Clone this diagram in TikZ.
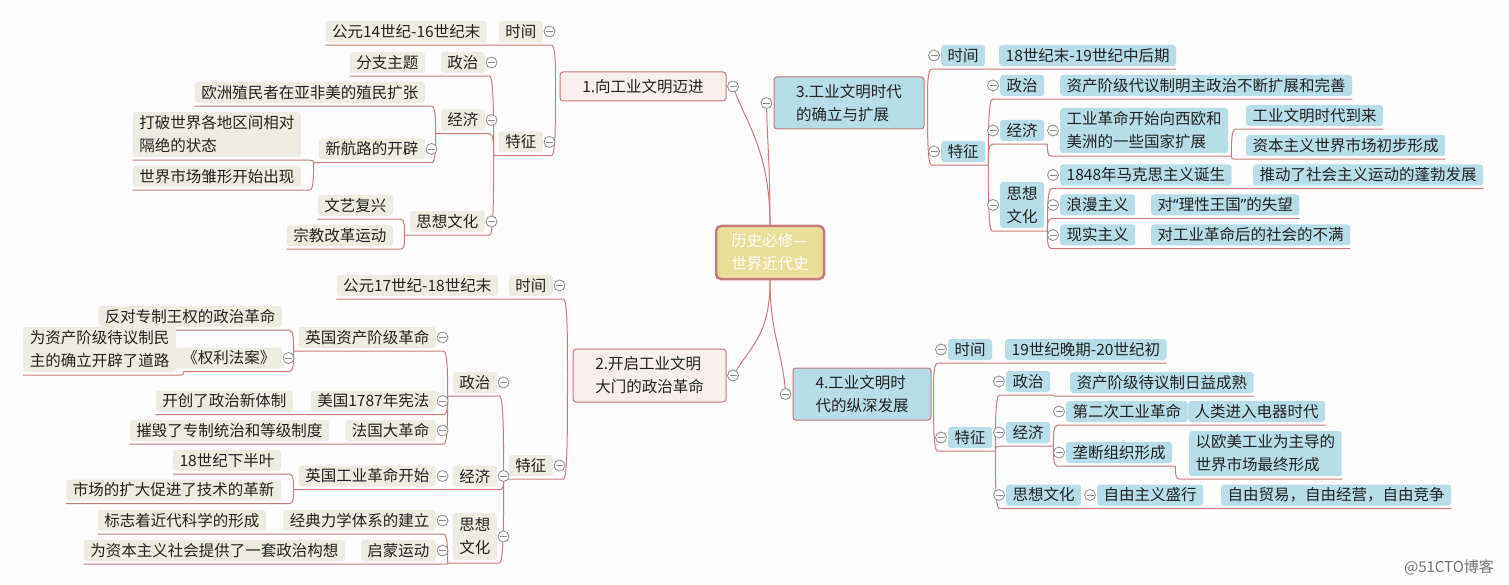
\documentclass[tikz,border=0pt]{standalone}
\usepackage{fontspec}
\setmainfont{Noto Sans CJK SC}
\newfontfamily\latq{Noto Sans}
\usetikzlibrary{calc}
\definecolor{beige}{HTML}{EEECE1}
\definecolor{lblue}{HTML}{B7DDE8}
\definecolor{pinkf}{HTML}{F8EEEE}
\definecolor{border}{HTML}{C47A7A}
\definecolor{linec}{HTML}{C97B7B}
\definecolor{txt}{HTML}{222222}
\definecolor{cfill}{HTML}{E8DE98}
\definecolor{knobc}{HTML}{8C8C8C}
\definecolor{bgc}{HTML}{FDFDFD}
\pgfdeclarelayer{bg}
\pgfsetlayers{bg,main}
\newcommand\fs{\fontsize{15.5}{23}\selectfont}
% junctions
\newcommand\jL[1]{\coordinate (#1-j) at ($(#1.south west)+(-5,3)$);}
\newcommand\jR[1]{\coordinate (#1-j) at ($(#1.south east)+(3,3)$);}
% knobs
\newcommand\kL[1]{\coordinate (#1-k) at ($(#1.east)+(6.5,0)$);\draw[knob] (#1-k) circle (5.5);\draw[knob] ($(#1-k)+(-3.5,0)$) -- ($(#1-k)+(3.5,0)$);}
\newcommand\kR[1]{\coordinate (#1-k) at ($(#1.west)+(-7,0)$);\draw[knob] (#1-k) circle (5.5);\draw[knob] ($(#1-k)+(-3.5,0)$) -- ($(#1-k)+(3.5,0)$);}
% links
\newcommand\linkL[3]{\draw[ln] let \p1=(#1.south west), \p2=(#2-j) in ({\x1+(#3)},{\y1-3pt}) -- ({\x2-4pt},{\y1-3pt}) .. controls (\x2,{\y1-3pt}) and (\x2,{0.5*\y1-1.5pt+0.5*\y2}) .. (\p2);}
\newcommand\linkR[3]{\draw[ln] let \p1=(#1.south east), \p2=(#2-j) in (\p2) .. controls (\x2,{0.5*\y1-1.5pt+0.5*\y2}) and (\x2,{\y1-3pt}) .. ({\x2+4pt},{\y1-3pt}) -- ({\x1+(#3)},{\y1-3pt});}
\begin{document}
\begin{tikzpicture}[x=1pt,y=-1pt,
  base/.style={rounded corners=3pt, inner xsep=6.5pt, inner ysep=2pt, minimum height=21pt, text=txt, font=\fs},
  lb/.style={base, fill=beige, anchor=east},
  rb/.style={base, fill=lblue, anchor=west},
  two/.style={minimum height=45pt, align=left},
  topicL/.style={draw=border, line width=1pt, fill=pinkf, rounded corners=3pt, text=txt, align=left, font=\fs},
  topicR/.style={draw=border, line width=1pt, fill=lblue, rounded corners=3pt, text=txt, align=left, font=\fs},
  centerbox/.style={draw=border, line width=2.5pt, fill=cfill, rounded corners=5pt, text=white, align=left, font=\fs},
  ln/.style={draw=linec, line width=1pt},
  knob/.style={draw=knobc, fill=white, line width=0.8pt}]
\useasboundingbox (0,0) rectangle (1509,585);
% topics
\node[topicL, minimum width=166pt, minimum height=29pt] (t1) at (643,86.5) {1.向工业文明迈进};
\node[topicL, minimum width=153pt, minimum height=53pt] (t2) at (649.5,375.5) {2.开启工业文明\\大门的政治革命};
\node[topicR, minimum width=150pt, minimum height=52pt] (t3) at (849,103) {3.工业文明时代\\的确立与扩展};
\node[topicR, minimum width=138pt, minimum height=52pt] (t4) at (862,394) {4.工业文明时\\代的纵深发展};
\node[centerbox, minimum width=108pt, minimum height=53pt] (c) at (770,252.5) {历史必修—\\世界近代史};
% topic 1
\node[lb] (t1time) at (543,31.5) {时间};
\node[lb] (t1timeA) at (487,31.5) {公元14世纪-16世纪末};
\node[lb] (t1feat) at (543,142) {特征};
\node[lb] (t1pol) at (485,62.5) {政治};
\node[lb] (t1polA) at (425,62.5) {分支主题};
\node[lb] (t1eco) at (485,120) {经济};
\node[lb] (t1ecoA) at (425,92.5) {欧洲殖民者在亚非美的殖民扩张};
\node[lb] (t1ecoB) at (425,149) {新航路的开辟};
\node[lb,two] (t1ecoB1) at (301,134.5) {打破世界各地区间相对\\隔绝的状态};
\node[lb] (t1ecoB2) at (301,176.5) {世界市场雏形开始出现};
\node[lb] (t1cul) at (485,221.5) {思想文化};
\node[lb] (t1culA) at (393,205.5) {文艺复兴};
\node[lb] (t1culB) at (393,235.5) {宗教改革运动};
% topic 2
\node[lb] (t2time) at (553,285.5) {时间};
\node[lb] (t2timeA) at (498,285.5) {公元17世纪-18世纪末};
\node[lb] (t2feat) at (553,465.5) {特征};
\node[lb] (t2pol) at (497,382.5) {政治};
\node[lb] (t2polA) at (436,337.5) {英国资产阶级革命};
\node[lb] (t2polA1) at (282,316.5) {反对专制王权的政治革命};
\node[lb] (t2polA2) at (282,358) {《权利法案》};
\node[lb,two] (t2polA2a) at (176,349.5) {为资产阶级待议制民\\主的确立开辟了道路};
\node[lb] (t2polB) at (436,401) {美国1787年宪法};
\node[lb] (t2polB1) at (293,401) {开创了政治新体制};
\node[lb] (t2polC) at (436,430.5) {法国大革命};
\node[lb] (t2polC1) at (329,430.5) {摧毁了专制统治和等级制度};
\node[lb] (t2eco) at (497,476) {经济};
\node[lb] (t2ecoA) at (436,476) {英国工业革命开始};
\node[lb] (t2ecoA1) at (281,460.5) {18世纪下半叶};
\node[lb] (t2ecoA2) at (281,490) {市场的扩大促进了技术的革新};
\node[lb,two,minimum height=47pt] (t2cul) at (497,536.5) {思想\\文化};
\node[lb] (t2culA) at (436,520.5) {经典力学体系的建立};
\node[lb] (t2culB) at (436,550.5) {启蒙运动};
\node[lb] (t2culA1) at (266,520.5) {标志着近代科学的形成};
\node[lb] (t2culB1) at (345,550.5) {为资本主义社会提供了一套政治构想};
% topic 3
\node[rb] (t3time) at (941,55.5) {时间};
\node[rb] (t3timeA) at (999,55.5) {18世纪末-19世纪中后期};
\node[rb] (t3feat) at (941,151.5) {特征};
\node[rb] (t3pol) at (1000,85.5) {政治};
\node[rb] (t3polA) at (1060,85.5) {资产阶级代议制明主政治不断扩展和完善};
\node[rb] (t3eco) at (1000,130.5) {经济};
\node[rb,two] (t3ecoA) at (1060,130.5) {工业革命开始向西欧和\\美洲的一些国家扩展};
\node[rb] (t3ecoA1) at (1246,115.5) {工业文明时代到来};
\node[rb] (t3ecoA2) at (1246,145.5) {资本主义世界市场初步形成};
\node[rb,two,minimum height=46pt] (t3cul) at (1000,205) {思想\\文化};
\node[rb] (t3culA) at (1060,175) {1848年马克思主义诞生};
\node[rb] (t3culA1) at (1253,175) {推动了社会主义运动的蓬勃发展};
\node[rb] (t3culB) at (1060,205) {浪漫主义};
\node[rb] (t3culB1) at (1151,205) {对{\latq “}理性王国{\latq ”}的失望};
\node[rb] (t3culC) at (1060,235) {现实主义};
\node[rb] (t3culC1) at (1151,235) {对工业革命后的社会的不满};
% topic 4
\node[rb] (t4time) at (948,349.5) {时间};
\node[rb] (t4timeA) at (1005,349.5) {19世纪晚期-20世纪初};
\node[rb] (t4feat) at (948,437.5) {特征};
\node[rb] (t4pol) at (1006,381.5) {政治};
\node[rb] (t4polA) at (1070,382.5) {资产阶级待议制日益成熟};
\node[rb] (t4eco) at (1006,432.5) {经济};
\node[rb] (t4ecoA) at (1066,411.5) {第二次工业革命};
\node[rb] (t4ecoA1) at (1188,411.5) {人类进入电器时代};
\node[rb] (t4ecoB) at (1066,452.5) {垄断组织形成};
\node[rb,two] (t4ecoB1) at (1189,453.5) {以欧美工业为主导的\\世界市场最终形成};
\node[rb] (t4cul) at (1006,495) {思想文化};
\node[rb] (t4culA) at (1097,495) {自由主义盛行};
\node[rb] (t4culA1) at (1221,495) {自由贸易，自由经营，自由竞争};
% watermark
\node[text=black!55, font=\fontsize{15}{18}\selectfont] (wm) at (1449,567) {@51CTO博客};
% junctions
\coordinate (t1-j) at ($(t1.west)+(-4,0)$);
\coordinate (t2-j) at ($(t2.west)+(-5,0)$);
\coordinate (t3-j) at ($(t3.east)+(3,0)$);
\coordinate (t4-j) at ($(t4.east)+(2,0)$);
\jL{t1time}\jL{t1feat}\jL{t1pol}\jL{t1eco}\jL{t1ecoB}\jL{t1cul}
\jL{t2time}\jL{t2feat}\jL{t2pol}\jL{t2polA}\jL{t2polB}\jL{t2polC}\jL{t2eco}\jL{t2ecoA}\jL{t2cul}\jL{t2culA}\jL{t2culB}
\coordinate (t2polA2-j) at ($(t2polA2.south west)+(8,3)$);
\jR{t3time}\jR{t3feat}\jR{t3pol}\jR{t3eco}\jR{t3ecoA}\jR{t3cul}\jR{t3culA}\jR{t3culB}\jR{t3culC}
\jR{t4time}\jR{t4feat}\jR{t4pol}\jR{t4eco}\jR{t4ecoA}\jR{t4ecoB}\jR{t4cul}\jR{t4culA}
% knobs
\kL{t1}\kL{t2}\kR{t3}\kR{t4}
\kL{t1time}\kL{t1feat}\kL{t1pol}\kL{t1eco}\kL{t1ecoB}\kL{t1cul}
\kL{t2time}\kL{t2feat}\kL{t2pol}\kL{t2polA}\kL{t2polA2}\kL{t2polB}\kL{t2polC}\kL{t2eco}\kL{t2ecoA}\kL{t2cul}\kL{t2culA}\kL{t2culB}
\kR{t3time}\kR{t3feat}\kR{t3pol}\kR{t3eco}\kR{t3ecoA}\kR{t3cul}\kR{t3culA}\kR{t3culB}\kR{t3culC}
\kR{t4time}\kR{t4feat}\kR{t4pol}\kR{t4eco}\kR{t4ecoA}\kR{t4ecoB}\kR{t4cul}\kR{t4culA}
\begin{pgfonlayer}{bg}
\fill[bgc] (0,0) rectangle (1509,585);
% center connectors
\draw[ln] (c.north) .. controls +(0,-75) and +(12,35) .. (t1-k);
\draw[ln] (c.north) .. controls +(0,-60) and +(1,45) .. (t3-k);
\draw[ln] (c.south) .. controls +(0,55) and +(18,-30) .. (t2-k);
\draw[ln] (c.south) .. controls +(0,55) and +(-2,-40) .. (t4-k);
% topic 1
\linkL{t1time}{t1}{-5pt}
\linkL{t1feat}{t1}{-5pt}
\linkL{t1timeA}{t1time}{0pt}
\linkL{t1pol}{t1feat}{-5pt}
\linkL{t1eco}{t1feat}{-5pt}
\linkL{t1cul}{t1feat}{-5pt}
\linkL{t1polA}{t1pol}{0pt}
\linkL{t1ecoA}{t1eco}{0pt}
\linkL{t1ecoB}{t1eco}{-5pt}
\linkL{t1ecoB1}{t1ecoB}{0pt}
\linkL{t1ecoB2}{t1ecoB}{0pt}
\linkL{t1culA}{t1cul}{0pt}
\linkL{t1culB}{t1cul}{0pt}
% topic 2
\linkL{t2time}{t2}{-5pt}
\linkL{t2feat}{t2}{-5pt}
\linkL{t2timeA}{t2time}{0pt}
\linkL{t2pol}{t2feat}{-5pt}
\linkL{t2eco}{t2feat}{-5pt}
\linkL{t2cul}{t2feat}{-5pt}
\linkL{t2polA}{t2pol}{-5pt}
\linkL{t2polB}{t2pol}{-5pt}
\linkL{t2polC}{t2pol}{-5pt}
\linkL{t2polA1}{t2polA}{0pt}
\linkL{t2polA2}{t2polA}{8pt}
\linkL{t2polA2a}{t2polA2}{0pt}
\linkL{t2polB1}{t2polB}{0pt}
\linkL{t2polC1}{t2polC}{0pt}
\linkL{t2ecoA}{t2eco}{-5pt}
\linkL{t2ecoA1}{t2ecoA}{0pt}
\linkL{t2ecoA2}{t2ecoA}{0pt}
\linkL{t2culA}{t2cul}{-5pt}
\linkL{t2culB}{t2cul}{-5pt}
\linkL{t2culA1}{t2culA}{0pt}
\linkL{t2culB1}{t2culB}{0pt}
% topic 3
\linkR{t3time}{t3}{3pt}
\linkR{t3feat}{t3}{3pt}
\linkR{t3timeA}{t3time}{0pt}
\linkR{t3pol}{t3feat}{3pt}
\linkR{t3eco}{t3feat}{3pt}
\linkR{t3cul}{t3feat}{3pt}
\linkR{t3polA}{t3pol}{0pt}
\linkR{t3ecoA}{t3eco}{3pt}
\linkR{t3ecoA1}{t3ecoA}{0pt}
\linkR{t3ecoA2}{t3ecoA}{0pt}
\linkR{t3culA}{t3cul}{3pt}
\linkR{t3culB}{t3cul}{3pt}
\linkR{t3culC}{t3cul}{3pt}
\linkR{t3culA1}{t3culA}{0pt}
\linkR{t3culB1}{t3culB}{0pt}
\linkR{t3culC1}{t3culC}{0pt}
% topic 4
\linkR{t4time}{t4}{3pt}
\linkR{t4feat}{t4}{3pt}
\linkR{t4timeA}{t4time}{0pt}
\linkR{t4pol}{t4feat}{3pt}
\linkR{t4eco}{t4feat}{3pt}
\linkR{t4cul}{t4feat}{3pt}
\linkR{t4polA}{t4pol}{0pt}
\linkR{t4ecoA}{t4eco}{3pt}
\linkR{t4ecoB}{t4eco}{3pt}
\linkR{t4ecoA1}{t4ecoA}{0pt}
\linkR{t4ecoB1}{t4ecoB}{0pt}
\linkR{t4culA}{t4cul}{3pt}
\linkR{t4culA1}{t4culA}{0pt}
\end{pgfonlayer}
\end{tikzpicture}
\end{document}
